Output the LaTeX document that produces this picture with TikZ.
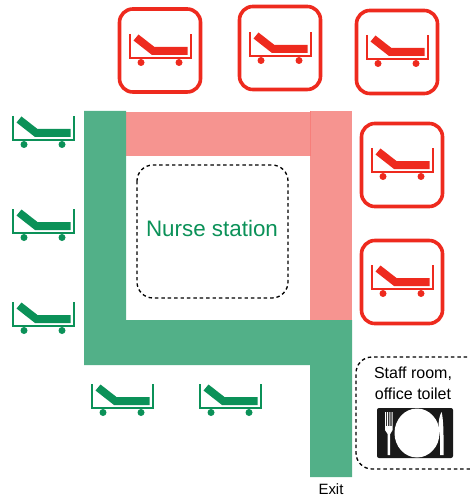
\documentclass[tikz,border=0pt]{standalone}
\usepackage{fontspec}
\setmainfont{Liberation Sans}
\usetikzlibrary{arrows.meta}
\definecolor{wallgreen}{HTML}{52B088}
\definecolor{wallpink}{HTML}{F69490}
\definecolor{bedgreen}{HTML}{0B9158}
\definecolor{bedred}{HTML}{EE2A1E}
\tikzset{
	bed/.pic={
		\draw[pic actions, line width=0.95pt, fill=none] (0,-24) -- (0,0) -- (61,0) -- (61,-24);
		\fill[pic actions] (3.5,-17.5) -- (8.5,-23.5) -- (24.5,-11) -- (57.5,-11) -- (57.5,-3) -- (22,-3) -- cycle;
		\fill[pic actions] (11,4.5) circle (3.5) (49,4.5) circle (3.5);
	},
	bedbox/.style={draw=bedred, line width=2.7pt, rounded corners=10pt},
	dashbox/.style={draw=black, line width=1pt, dash pattern=on 2.6pt off 2.2pt, rounded corners=12pt}
}
\begin{document}
\begin{tikzpicture}[x=0.75pt, y=-0.75pt, every node/.style={font=\small}]
	\useasboundingbox (0,0) rectangle (470,499);
	% walls
	\fill[wallpink] (126,112) rectangle (310,156);
	\fill[wallpink] (310,111) rectangle (352,320);
	\draw[wallpink!85!red, line width=0.6pt] (310,111) -- (310,156);
	\fill[wallgreen] (84,111) -- (126,111) -- (126,320) -- (352,320) -- (352,477) -- (310,477) -- (310,365) -- (84,365) -- cycle;
	% nurse station
	\draw[dashbox] (137,165) rectangle (288,298);
	\node[text=bedgreen, font=\fontsize{16.8pt}{18pt}\selectfont] (nurse) at (212,228) {Nurse station};
	% red beds
	\foreach \x/\y/\bx/\by in {119.5/9/130/58, 239.5/6.5/250/56, 356.5/10.5/367/59, 361.5/123.5/372/172, 361.5/240.5/372/289} {
		\draw[bedbox] (\x,\y) rectangle ++(81,83);
		\pic[bedred] at (\bx,\by) {bed};
	}
	% green beds
	\foreach \bx/\by in {13/140, 13/233, 13/326, 92/408, 200/408} {
		\pic[bedgreen] at (\bx,\by) {bed};
	}
	% staff room
	\draw[dashbox] (480,357) -- (356,357) -- (356,469) -- (480,469);
	\node[align=center, font=\fontsize{12pt}{15.8pt}\selectfont] (staff) at (413,383.5) {Staff room,\\office toilet};
	% dish sign
	\fill[black!90, rounded corners=1.5pt] (377,408) rectangle (453,458);
	\fill[white] (417,433) ellipse (22.5 and 24.5);
	\fill[white] (385,412) -- (386,412) -- (386,426) -- (387.2,426) -- (387.2,412) -- (388.2,412) -- (388.2,426) -- (389.4,426) -- (389.4,412) -- (390.4,412) -- (390.4,426) -- (391.6,426) -- (391.6,412) -- (392.6,412) -- (392.6,430) -- (390.2,434) -- (390.2,455) -- (387.6,455) -- (387.6,434) -- (385,430) -- cycle;
	\fill[white] (441.5,412) .. controls (443,416) and (443.5,430) .. (443.5,436) -- (443.5,455) -- (440,455) -- (440,436) -- (438.5,428) .. controls (438.5,420) and (439.5,416) .. (441.5,412) -- cycle;
	% exit
	\node[font=\fontsize{11.2pt}{12pt}\selectfont] (exit) at (331,489) {Exit};
\end{tikzpicture}
\end{document}
